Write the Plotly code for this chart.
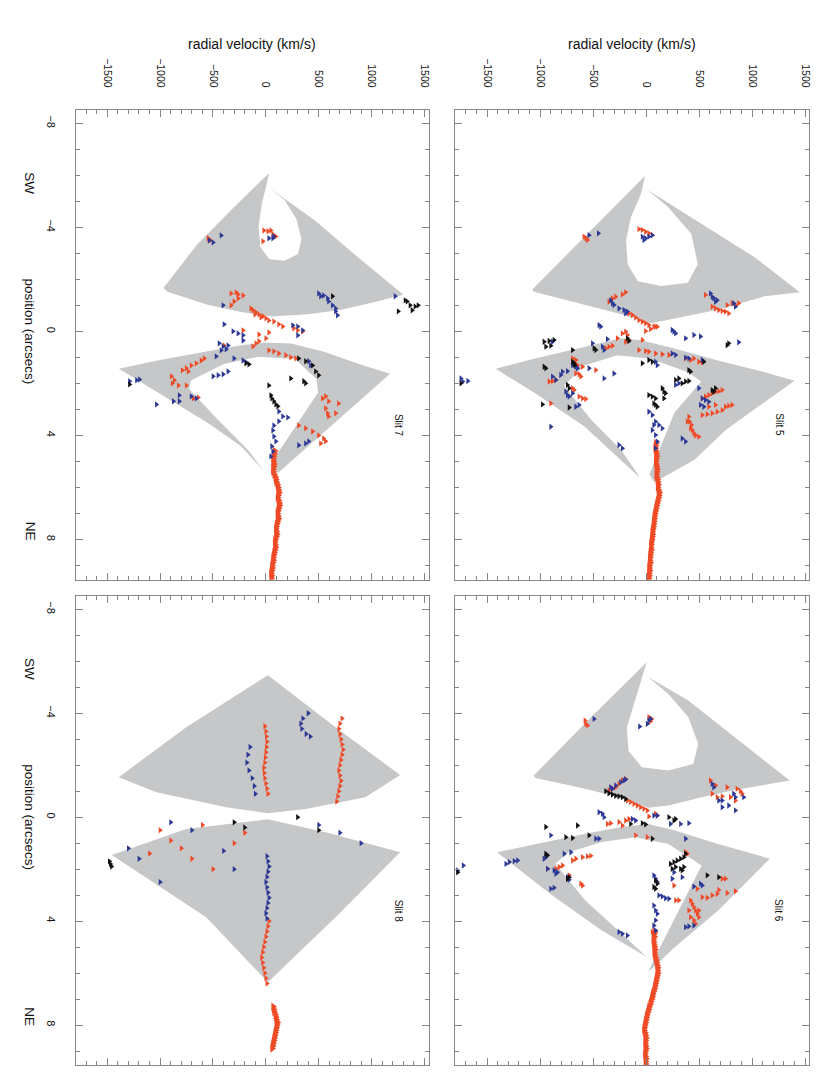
import plotly.graph_objects as go

# ---------------- shared style values ----------------
V_RANGE = [-1800, 1540]
P_RANGE = [9.55, -8.5]
GRAY = "#c6c7c9"
RED = "#ef4a26"
BLUE = "#2b3896"
BLACK = "#111111"
AXC = "#858585"
FONT = "Liberation Sans, Arial, sans-serif"

# ---------------- Slit 7 (top-left) ----------------
S7_UP_V = [28, -297, -646, -969, -931, -551, -234, 51, 399, 716, 1033, 1301, 874, 462, 35,
           177, 288, 336, 304, 177, 35, -51, -70, -38, 13]
S7_UP_P = [-6.08, -4.79, -3.36, -1.67, -1.52, -1.02, -0.74, -0.57, -0.66, -0.83, -1.13, -1.41, -2.84, -4.27, -5.5,
           -5.05, -4.33, -3.55, -2.97, -2.71, -2.77, -3.23, -4.0, -4.91, -5.76]
S7_LO_V = [-1390, -1026, -551, -234, -12, 240, 558, 874, 1175, 684, 304, 114, 38, 494, 478, 272, -76, -392,
           -710, -725, -456, -171, -19, -234, -551, -1026]
S7_LO_P = [1.44, 1.12, 0.77, 0.53, 0.43, 0.47, 0.79, 1.25, 1.63, 3.39, 4.75, 5.45, 5.14, 2.35, 1.83, 1.05, 0.98,
           1.25, 1.89, 2.22, 3.39, 4.55, 5.37, 4.42, 3.51, 2.35]

S7_RED_V = [-19, 19, 66, 94, -28, 47, -546, -527, -329, -263, -216, -301, -263, -329, -282,
            -122, -94, -66, -28, 0, 28, 75, 122, 160, -141, -104, -47,
            -216, -66, 28, 0, 301, 348, 263, -395, -122, -94, -66,
            28, 75, 122, 188, 235, 282, -753, -706, -659, -612, -583, -734, -790,
            -894, -866, -828, -753, -885, -687, -640,
            536, 565, 593, 687, 565, 583, 593, 659, 310, 376, 442, 499, 546, 565, 518]
S7_RED_P = [-3.88, -3.85, -3.73, -3.65, -3.46, -3.88, -3.58, -3.5, -1.46, -1.42, -1.38, -1.15, -1.27, -1.0, -1.5,
            -0.81, -0.73, -0.65, -0.58, -0.5, -0.42, -0.38, -0.27, -0.19, -0.88, -0.65, -0.54,
            -0.04, 0.12, 0.04, 0.27, -0.04, 0.0, -0.12, 0.54, 0.58, 0.46, 0.38,
            0.73, 0.77, 0.85, 0.92, 1.0, 1.04, 1.42, 1.31, 1.23, 1.12, 1.04, 1.54, 1.5,
            1.73, 1.88, 2.08, 2.08, 2.0, 2.58, 2.54,
            2.58, 2.5, 2.69, 2.77, 2.96, 3.15, 3.27, 3.15, 3.62, 3.73, 3.85, 4.0, 4.12, 4.23, 4.31]
S7_SYS_P = [4.6, 4.7, 4.8, 4.9, 5.0, 5.1, 5.2, 5.3, 5.4, 5.5, 5.6, 5.7, 5.8, 5.9, 6.0, 6.1, 6.2, 6.3, 6.4, 6.5,
            6.6, 6.7, 6.8, 6.9, 7.0, 7.1, 7.2, 7.3, 7.4, 7.5, 7.6, 7.7, 7.8, 7.9, 8.0, 8.1, 8.2, 8.3, 8.4, 8.5,
            8.6, 8.7, 8.8, 8.9, 9.0, 9.1, 9.2, 9.3, 9.4, 9.5]
S7_SYS_V = [85, 80, 75, 70, 72, 78, 75, 68, 70, 80, 90, 95, 100, 110, 115, 120, 125, 118, 112, 120,
            128, 130, 122, 115, 110, 115, 120, 112, 105, 100, 95, 100, 105, 98, 90, 85, 88, 92, 86, 80,
            75, 70, 72, 65, 60, 62, 55, 50, 55, 52]
S7_BLUE_V = [28, 66, 75, -536, -499, -423, -405, 499, 546, 583, 593, 630, 659, 659, 677, 518, 1223,
             -395, -311, -263, -216, -216, 254, 301, 348, 301, -442, -405, -376, -358, -423, -470,
             -301, -216, -188, 405, 423, -1289, -1223, -1195, -499, -452, -405, -358, -1035,
             -875, -819, -819, -706, -659, 122, 160, 207, 122, 75, 66, 75, 94, 56, 66, 47, 310, 376, 405]
S7_BLUE_P = [-3.58, -3.58, -3.65, -3.5, -3.42, -3.69, -1.0, -1.46, -1.38, -1.27, -1.15, -1.0, -0.88, -0.77, -0.62, -1.35, -1.35,
             -0.27, 0.0, 0.08, 0.15, 0.35, -0.23, -0.19, -0.04, 0.15, 0.46, 0.58, 0.69, 0.54, 0.73, 0.96,
             1.04, 1.12, 1.19, 1.15, 1.31, 1.92, 1.88, 1.85, 1.73, 1.69, 1.65, 1.54, 2.81,
             2.69, 2.69, 2.46, 2.5, 2.58, 3.08, 3.27, 3.31, 3.46, 3.62, 3.81, 4.04, 4.23, 4.42, 4.62, 4.81, 4.38, 4.31, 4.23]
S7_BLACK_V = [1252, 1317, 1336, 1364, 1411, 1440, 1383, 630, -188, -160, 310, 376, 442, 470, 499,
              235, 358, 376, 28, 47, 56, 75, 94, 113, -1289]
S7_BLACK_P = [-0.77, -1.19, -1.15, -1.0, -0.96, -1.0, -0.81, -1.35, 1.23, 1.27, 1.04, 1.15, 1.31, 1.54, 1.69,
              1.81, 1.92, 2.0, 2.08, 2.46, 2.58, 2.69, 2.81, 2.88, 2.04]

# ---------------- Slit 5 (top-right) ----------------
S5_UP_V = [0, -520, -1073, -1057, -584, -269, 47, 362, 677, 1119, 1450, 1027, 520, 16,
           205, 426, 488, 394, 142, -79, -174, -189, -142, -47, -10]
S5_UP_P = [-6.02, -3.88, -1.61, -1.52, -1.02, -0.70, -0.31, -0.57, -0.83, -1.35, -1.5, -2.84, -4.14, -5.44,
           -4.79, -3.75, -2.58, -1.87, -1.74, -1.93, -2.58, -3.49, -4.40, -5.30, -5.98]
S5_LO_V = [-1419, -1057, -584, -237, -47, 268, 677, 1119, 1400, 757, 457, 79, 31, 268, 520, 394, 47, -269,
           -584, -773, -520, -237, -54, -584, -1057]
S5_LO_P = [1.44, 1.05, 0.60, 0.27, 0.34, 0.66, 1.12, 1.57, 1.9, 3.77, 4.94, 5.80, 5.5, 3.12, 1.93, 1.57, 1.05,
           0.92, 1.31, 2.09, 3.39, 4.55, 5.64, 3.65, 2.35]
S5_RED_V = [-68, -36, -5, 26, 58, -585, -569, -553, -350, -318, -287, -224, -193,
            -162, -130, -99, -68, -36, -5, -177, 26, 73, 105, -5, 42, 89,
            -224, -193, -177, -271, -193, -162, -381, -350, -318,
            -68, -5, 26, 89, 152, 215, -36, -694, -663, -679, -647, -600, -663, -632, -616, -475,
            -915, -883, -852, -899, -632, -600, -569, -694, -679,
            560, 623, 654, 685, 717, 748, 779, 842, 873, 811, 764, 372, 419, 450, 497, 529,
            529, 560, 591, 623, 654, 685, 717, 748, 779, 811, 591, 654, 529, 576, 623, 670, 717,
            403, 409, 428, 435, 450, 466, 497, 419, 388]
S5_RED_P = [-3.93, -3.9, -3.83, -3.77, -3.7, -3.64, -3.58, -3.51, -1.14, -1.27, -1.33, -1.42, -1.5,
            -0.69, -0.63, -0.53, -0.43, -0.37, -0.31, -0.73, -0.24, -0.18, -0.18, -0.01, -0.09, -0.18,
            0.08, 0.01, 0.14, 0.27, 0.4, 0.33, 0.65, 0.59, 0.55,
            0.72, 0.76, 0.78, 0.85, 0.88, 0.91, 0.33, 1.04, 1.1, 1.23, 1.3, 1.36, 1.62, 1.65, 1.74, 1.49,
            1.93, 1.91, 1.87, 2.77, 2.51, 2.58, 2.6, 2.19, 2.26,
            -1.4, -0.95, -0.88, -0.82, -0.78, -0.76, -0.69, -1.01, -1.08, -1.08, -1.01, 1.04, 1.1, 1.04, 1.17, 1.19,
            2.58, 2.51, 2.45, 2.38, 2.32, 2.3, 2.26, 2.9, 2.86, 2.83, 2.9, 2.83, 3.22, 3.19, 3.15, 3.09, 3.03,
            3.28, 3.47, 3.6, 3.8, 3.92, 4.01, 4.05, 3.73, 3.47]
S5_SYS_P = [4.3, 4.4, 4.5, 4.6, 4.7, 4.8, 4.9, 5.0, 5.1, 5.2, 5.3, 5.4, 5.5, 5.6, 5.7, 5.8, 5.9, 6.0, 6.1, 6.2,
            6.3, 6.4, 6.5, 6.6, 6.7, 6.8, 6.9, 7.0, 7.1, 7.2, 7.3, 7.4, 7.5, 7.6, 7.7, 7.8, 7.9, 8.0, 8.1, 8.2,
            8.3, 8.4, 8.5, 8.6, 8.7, 8.8, 8.9, 9.0, 9.1, 9.2, 9.3, 9.4, 9.5]
S5_SYS_V = [95, 90, 88, 92, 98, 100, 96, 92, 95, 100, 105, 102, 98, 100, 108, 112, 115, 110, 118, 125,
            122, 118, 112, 105, 100, 95, 90, 85, 80, 78, 75, 72, 70, 65, 60, 62, 58, 55, 50, 48,
            45, 50, 42, 40, 38, 35, 40, 32, 30, 35, 28, 30, 25]
S5_BLUE_V = [-36, -5, 26, 58, -21, -538, -450, -334, -318, -303, -256, -209, -177, -193,
             607, 623, 638, 654, 670, 826, 842, -428, -444, 246, 262, 278, 372, 450, 513, 873,
             -365, -506, -412, -397, 246, 278, 372, 403, 529, -883, -899,
             -694, -663, -647, -538, -303, -397, -742, -789, -883, -852, -805,
             -757, -742, -726, -694, -663, -632, -1746, -1730, -1682,
             497, 529, 560, 591, 513, 544, 278, 309, 26, 58, 89, 120, 152,
             73, 58, 89, 105, 89, 340, 372, -256, -224, 89, 105]
S5_BLUE_P = [-3.64, -3.58, -3.64, -3.7, -3.51, -3.7, -3.77, -1.2, -1.08, -1.01, -0.88, -0.82, -0.76, -0.69,
             -1.46, -1.33, -1.27, -1.14, -1.2, -1.08, -0.95, -0.18, -0.24, -0.05, 0.01, 0.08, 0.27, 0.14, 0.2, 0.42,
             0.3, 0.46, 0.59, 0.72, 0.85, 0.91, 1.01, 1.04, 1.1, 0.4, 3.67,
             1.3, 1.36, 1.42, 1.42, 1.62, 1.81, 1.53, 1.55, 1.74, 1.87, 1.68,
             2.32, 2.45, 2.51, 2.38, 2.9, 2.83, 1.81, 1.93, 1.91,
             2.19, 2.58, 2.64, 2.71, 2.83, 2.9, 2.06, 2.0, 3.09, 3.22, 3.47, 3.6, 3.73,
             3.6, 3.8, 3.99, 4.24, 4.5, 4.12, 4.24, 4.37, 4.5, 1.17, 1.3]
S5_BLACK_V = [-962, -915, -868, -946, -899, -491, -475, -694, -177, -162,
              -962, -946, -694, -679, -673, -1746, 779, 764, 26, 58, -36, 544, 403, 419,
              278, 309, 340, 372, 403, 152, 168, 183, 623, 638, 654,
              26, 58, 89, 73, 89, 105, 168, -977, -726, -742, -726]
S5_BLACK_P = [0.4, 0.37, 0.33, 0.59, 0.55, 0.65, 0.72, 0.72, 0.27, 0.37,
              1.36, 1.42, 1.17, 1.23, 1.3, 2.0, 0.46, 0.53, 1.1, 1.17, 1.23, 1.17, 1.49, 1.55,
              1.87, 1.81, 2.0, 1.93, 1.91, 2.19, 2.32, 2.38, 2.26, 2.32, 2.19,
              2.45, 2.51, 2.58, 2.77, 2.83, 2.9, 2.58, 2.81, 2.93, 2.06, 2.19]

# ---------------- Slit 8 (bottom-left) ----------------
S8_UP_V = [19, 659, 1270, 941, 376, 19, -376, -1035, -1392, -753]
S8_UP_P = [-5.46, -3.46, -1.62, -0.77, -0.31, -0.15, -0.38, -0.96, -1.54, -3.46]
S8_LO_V = [19, 564, 1270, 659, 19, -564, -1458, -753]
S8_LO_P = [0.08, 0.58, 1.35, 3.85, 6.35, 3.85, 1.46, 0.46]
S8_RED_V = [-10, 0, 5, 10, 5, 0, -5, -10, -20, -15, -10, 0, 10, 20,
            720, 700, 690, 700, 710, 720, 730, 720, 710, 700, 690, 700, 710, 700, 690, 680, 670,
            30, 20, 10, 0, -10, -20, -30, -40, -30, -20, -10, 0, 10,
            -1000, -900, -800, -700, -500, -300, -200, -600, -1100]
S8_RED_P = [-3.5, -3.3, -3.1, -2.9, -2.7, -2.5, -2.3, -2.1, -1.9, -1.7, -1.5, -1.3, -1.1, -0.9,
            -3.8, -3.6, -3.4, -3.2, -3.0, -2.8, -2.6, -2.4, -2.2, -2.0, -1.8, -1.6, -1.4, -1.2, -1.0, -0.8, -0.6,
            4.0, 4.2, 4.4, 4.6, 4.8, 5.0, 5.2, 5.4, 5.6, 5.8, 6.0, 6.2, 6.4,
            0.5, 0.9, 1.2, 1.6, 2.0, 1.0, 0.6, 0.3, 1.4]
S8_SYS_P = [7.3, 7.4, 7.5, 7.6, 7.7, 7.8, 7.9, 8.0, 8.1, 8.2, 8.3, 8.4, 8.5, 8.6, 8.7, 8.8, 8.9]
S8_SYS_V = [70, 75, 80, 90, 95, 100, 110, 105, 100, 95, 90, 85, 80, 75, 70, 65, 60]
S8_BLUE_V = [400, 350, 330, 340, 380, 420, -150, -170, -180, -160, -130, -110, -100,
             10, 20, 30, 20, 10, 0, 10, 20, 30, 20, 10, 0, 10,
             -1300, -1200, -900, -700, -400, -300, -1000, 500, 700, 900]
S8_BLUE_P = [-4.0, -3.8, -3.6, -3.4, -3.2, -3.1, -2.7, -2.4, -2.1, -1.8, -1.5, -1.2, -0.9,
             1.5, 1.7, 1.9, 2.1, 2.3, 2.5, 2.7, 2.9, 3.1, 3.3, 3.5, 3.7, 3.9,
             1.2, 1.6, 0.2, 0.5, 1.3, 2.0, 2.5, 0.3, 0.6, 1.0]
S8_BLACK_V = [-1480, -1470, -1460, -300, -200, 300, 500]
S8_BLACK_P = [1.7, 1.8, 1.9, 0.2, 0.4, 0.0, 0.5]

# ---------------- Slit 6 (bottom-right) ----------------
S6_UP_V = [6, -517, -1060, -1044, -574, -261, 22, 210, 524, 837, 1355, 837, 398, 22,
           210, 398, 492, 445, 210, -40, -166, -181, -103, -10]
S6_UP_P = [-5.96, -3.85, -1.60, -1.51, -1.09, -0.77, -0.36, -0.45, -0.77, -1.05, -1.41, -3.08, -4.49, -5.38,
           -4.74, -3.85, -2.82, -2.05, -1.80, -1.92, -2.56, -3.46, -4.49, -5.8]
S6_LO_V = [-1404, -1044, -574, -229, 22, 273, 680, 1167, 680, 273, 22, 69, 273, 524, 210, -103, -417, -731,
           -856, -574, -229, 6, -417, -887, -1357]
S6_LO_P = [1.35, 1.03, 0.64, 0.38, 0.26, 0.51, 1.03, 1.60, 3.59, 5.0, 5.96, 5.51, 3.85, 1.86, 1.03, 0.77, 0.96,
           1.35, 1.79, 3.2, 4.49, 5.38, 4.36, 3.01, 1.5]
S6_RED_V = [26, 52, 42, -576, -569, -553,
            -350, -318, -287, -256, -224, -193, -177, -146, -115, -83, -52, -21, 11,
            607, 654, 764, 858, 889, 905, 623, 670, 717, 795, 842,
            -365, -334, -256, -224, -193, -162, -99, 11, 89, 105, 26,
            -694, -663, -600, -553, -522, -789, -820, -852, -930, -726, -742, -616, -600,
            372, 388, 717, 748, 685, 764, 842, 482, 529, 576, 623, 670, 262, 278, 309,
            419, 435, 450, 466, 482, 497, 450, 466, 403, 419, 497, 58, 89]
S6_RED_P = [-3.85, -3.78, -3.69, -3.72, -3.59, -3.53,
            -1.03, -1.1, -1.15, -1.28, -1.41, -1.47, -0.64, -0.58, -0.51, -0.45, -0.38, -0.32, -0.26,
            -1.41, -1.22, -1.15, -1.09, -1.0, -0.9, -0.9, -0.77, -0.8, -0.77, -0.64,
            0.26, 0.23, 0.19, 0.32, 0.13, 0.07, 0.7, 0.77, -0.13, -0.06, -0.03,
            1.67, 1.6, 1.54, 1.51, 1.49, 1.86, 1.92, 1.99, 1.99, 2.24, 2.37, 2.56, 2.63,
            1.35, 1.41, 2.37, 2.37, 2.8, 2.92, 2.85, 2.76, 3.08, 3.1, 3.01, 2.95, 2.63, 3.2, 3.2,
            3.2, 3.33, 3.46, 3.59, 3.72, 3.85, 3.97, 4.1, 3.59, 3.85, 3.59, 4.42, 4.42]
S6_SYS_P = [4.4, 4.5, 4.6, 4.7, 4.8, 4.9, 5.0, 5.1, 5.2, 5.3, 5.4, 5.5, 5.6, 5.7, 5.8, 5.9, 6.0, 6.1, 6.2, 6.3,
            6.4, 6.5, 6.6, 6.7, 6.8, 6.9, 7.0, 7.1, 7.2, 7.3, 7.4, 7.5, 7.6, 7.7, 7.8, 7.9, 8.0, 8.1, 8.2, 8.3,
            8.4, 8.5, 8.6, 8.7, 8.8, 8.9, 9.0, 9.1, 9.2, 9.3, 9.4, 9.5]
S6_SYS_V = [80, 75, 78, 70, 72, 75, 80, 85, 78, 82, 88, 95, 100, 105, 110, 108, 112, 105, 100, 95,
            90, 85, 80, 72, 65, 60, 55, 45, 40, 30, 25, 18, 10, 5, 0, -5, -10, -15, -18, -10,
            -5, 0, -5, -8, -3, 0, -5, -10, -5, 0, -5, -3]
S6_BLUE_V = [-61, 11, 26, 42, -491, -334, -318, -287, -240, -209, -193,
             623, 638, 826, 842, 920, 685, 717, 779, 717, 842, -444, -412, -397,
             -130, -99, 73, 105, 403, 325, 230, 372, -899, -475, -444,
             -962, -946, -773, -710, -1322, -1291, -1244, -1212, -930, -868, -852, -836,
             -742, -726, -899, -868, -1777, -1724, 262, 340, 450, 513, 529, 246,
             73, 89, 105, 120, 152, 183, 215, -256, -224, -177, 372, 403, 450,
             73, 89, 105, 89, 73, 89]
S6_BLUE_P = [-3.49, -3.59, -3.72, -3.78, -3.78, -1.15, -1.09, -1.22, -1.35, -1.41, -1.45,
             -1.28, -1.15, -0.9, -0.77, -0.77, -0.64, -0.64, -0.45, -0.38, -0.26, -0.19, -0.13, 0.0,
             0.07, 0.13, -0.06, -0.06, 0.23, 0.26, 0.26, 0.83, 0.7, 0.83, 0.83,
             1.6, 1.54, 1.41, 1.35, 1.8, 1.73, 1.69, 1.67, 1.99, 2.05, 2.18, 2.12,
             2.31, 2.41, 2.76, 2.72, 2.05, 1.86, 2.12, 2.31, 2.67, 2.56, 2.63, 2.37,
             2.24, 2.37, 2.5, 3.01, 3.05, 3.12, 3.14, 4.42, 4.49, 4.55, 4.23, 4.2, 4.17,
             3.4, 3.59, 3.72, 3.97, 4.17, 4.36]
S6_BLACK_V = [-381, -350, -318, -287, -256, -224, -193, -946, -647, -538, -757, -694,
              -146, -36, -5, 215, 262, 278, 58, -946, -930, -742, -726,
              372, 356, 325, 293, 262, 230, 246, 278, 325, 340, 356, 89, 105, 73, 89, 576, 685, -1777]
S6_BLACK_P = [-1.0, -0.92, -0.87, -0.82, -0.8, -0.77, -0.7, 0.38, 0.32, 0.7, 0.77, 0.8,
              0.26, 0.23, 0.28, 0.0, 0.13, 0.07, 0.83, 1.41, 1.47, 2.37, 2.31,
              1.41, 1.54, 1.6, 1.67, 1.73, 1.8, 1.99, 1.92, 1.99, 2.05, 1.92, 2.44, 2.56, 2.69, 2.76, 2.24, 2.31, 2.12]

# ---------------- figure ----------------
SLIT_NAMES = ["Slit 7", "Slit 5", "Slit 8", "Slit 6"]
panels = [
    ("x", "y", S7_UP_V, S7_UP_P, S7_LO_V, S7_LO_P, S7_RED_V, S7_RED_P, S7_SYS_V, S7_SYS_P,
     S7_BLUE_V, S7_BLUE_P, S7_BLACK_V, S7_BLACK_P),
    ("x2", "y2", S5_UP_V, S5_UP_P, S5_LO_V, S5_LO_P, S5_RED_V, S5_RED_P, S5_SYS_V, S5_SYS_P,
     S5_BLUE_V, S5_BLUE_P, S5_BLACK_V, S5_BLACK_P),
    ("x3", "y3", S8_UP_V, S8_UP_P, S8_LO_V, S8_LO_P, S8_RED_V, S8_RED_P, S8_SYS_V, S8_SYS_P,
     S8_BLUE_V, S8_BLUE_P, S8_BLACK_V, S8_BLACK_P),
    ("x4", "y4", S6_UP_V, S6_UP_P, S6_LO_V, S6_LO_P, S6_RED_V, S6_RED_P, S6_SYS_V, S6_SYS_P,
     S6_BLUE_V, S6_BLUE_P, S6_BLACK_V, S6_BLACK_P),
]

fig = go.Figure()
for (xa, ya, uv, up, lv, lp, rv, rp, sv_, sp_, bv, bp, kv, kp) in panels:
    for sv, sp in ((uv, up), (lv, lp)):
        fig.add_trace(go.Scatter(x=sv + [sv[0]], y=sp + [sp[0]], xaxis=xa, yaxis=ya, mode="lines",
                                 fill="toself", fillcolor=GRAY, line=dict(width=0, color=GRAY),
                                 hoverinfo="skip", showlegend=False))
    fig.add_trace(go.Scatter(x=sv_, y=sp_, xaxis=xa, yaxis=ya, mode="markers",
                             marker=dict(symbol="triangle-right", size=7.5, color=RED, line=dict(width=0)),
                             showlegend=False))
    for cv, cp, col in ((rv, rp, RED), (bv, bp, BLUE), (kv, kp, BLACK)):
        fig.add_trace(go.Scatter(x=cv, y=cp, xaxis=xa, yaxis=ya, mode="markers",
                                 marker=dict(symbol="triangle-right", size=5.5, color=col, line=dict(width=0)),
                                 showlegend=False))

XCOL = [[67.7 / 830, 421.7 / 830], [448.3 / 830, 803.3 / 830]]
YROW = [[1 - 571.7 / 1075, 1 - 102.3 / 1075], [1 - 1057.3 / 1075, 1 - 588.3 / 1075]]

def xaxis_cfg(col, row):
    return dict(domain=XCOL[col], range=V_RANGE, showgrid=False, zeroline=False,
                showline=True, linecolor=AXC, linewidth=1, mirror="allticks",
                ticks="inside", ticklen=7, tickcolor=AXC, tickwidth=1,
                tick0=0, dtick=500, side="top", tickangle=90,
                showticklabels=(row == 0), ticklabelstandoff=18,
                tickfont=dict(size=10.5, color="#111", family=FONT),
                minor=dict(dtick=100, ticks="inside", ticklen=4, tickcolor=AXC, showgrid=False))

def yaxis_cfg(col, row):
    return dict(domain=YROW[row], range=P_RANGE, showgrid=False, zeroline=False,
                showline=True, linecolor=AXC, linewidth=1, mirror="allticks",
                ticks="inside", ticklen=7, tickcolor=AXC, tickwidth=1,
                tick0=0, dtick=4, tickangle=90,
                showticklabels=(col == 0), ticklabelstandoff=14,
                tickfont=dict(size=11, color="#111", family=FONT),
                minor=dict(dtick=1, ticks="inside", ticklen=4, tickcolor=AXC, showgrid=False))

layout = dict(width=830, height=1075, autosize=False, margin=dict(l=0, r=0, t=0, b=0),
              paper_bgcolor="white", plot_bgcolor="white", showlegend=False,
              font=dict(family=FONT, color="#111"))
names = [("xaxis", "yaxis", 0, 0, "x", "y"), ("xaxis2", "yaxis2", 1, 0, "x2", "y2"),
         ("xaxis3", "yaxis3", 0, 1, "x3", "y3"), ("xaxis4", "yaxis4", 1, 1, "x4", "y4")]
for xn, yn, c, r, xa, ya in names:
    xc = xaxis_cfg(c, r); xc["anchor"] = ya
    yc = yaxis_cfg(c, r); yc["anchor"] = xa
    layout[xn] = xc
    layout[yn] = yc
fig.update_layout(**layout)

ann = []
for c in range(2):
    ann.append(dict(text="radial velocity (km/s)", xref="paper", yref="paper",
                    x=sum(XCOL[c]) / 2, y=1 - 36 / 1075, showarrow=False,
                    font=dict(size=14, family=FONT, color="#111"), xanchor="center", yanchor="middle"))
for r, ya in ((0, "y"), (1, "y3")):
    for txt, pv in (("SW", -5.7), ("position (arcsecs)", 0), ("NE", 7.7)):
        ann.append(dict(text=txt, xref="paper", yref=ya, x=22 / 830, y=pv, showarrow=False,
                        textangle=90, font=dict(size=13.5, family=FONT, color="#111"),
                        xanchor="center", yanchor="middle"))
for (xa, ya, *_), name in zip(panels, SLIT_NAMES):
    ann.append(dict(text=name, xref=xa, yref=ya, x=1250, y=3.6, showarrow=False, textangle=90,
                    font=dict(size=10, family=FONT, color="#111"), xanchor="center", yanchor="middle"))
fig.update_layout(annotations=ann)

fig.write_html("out.html")
